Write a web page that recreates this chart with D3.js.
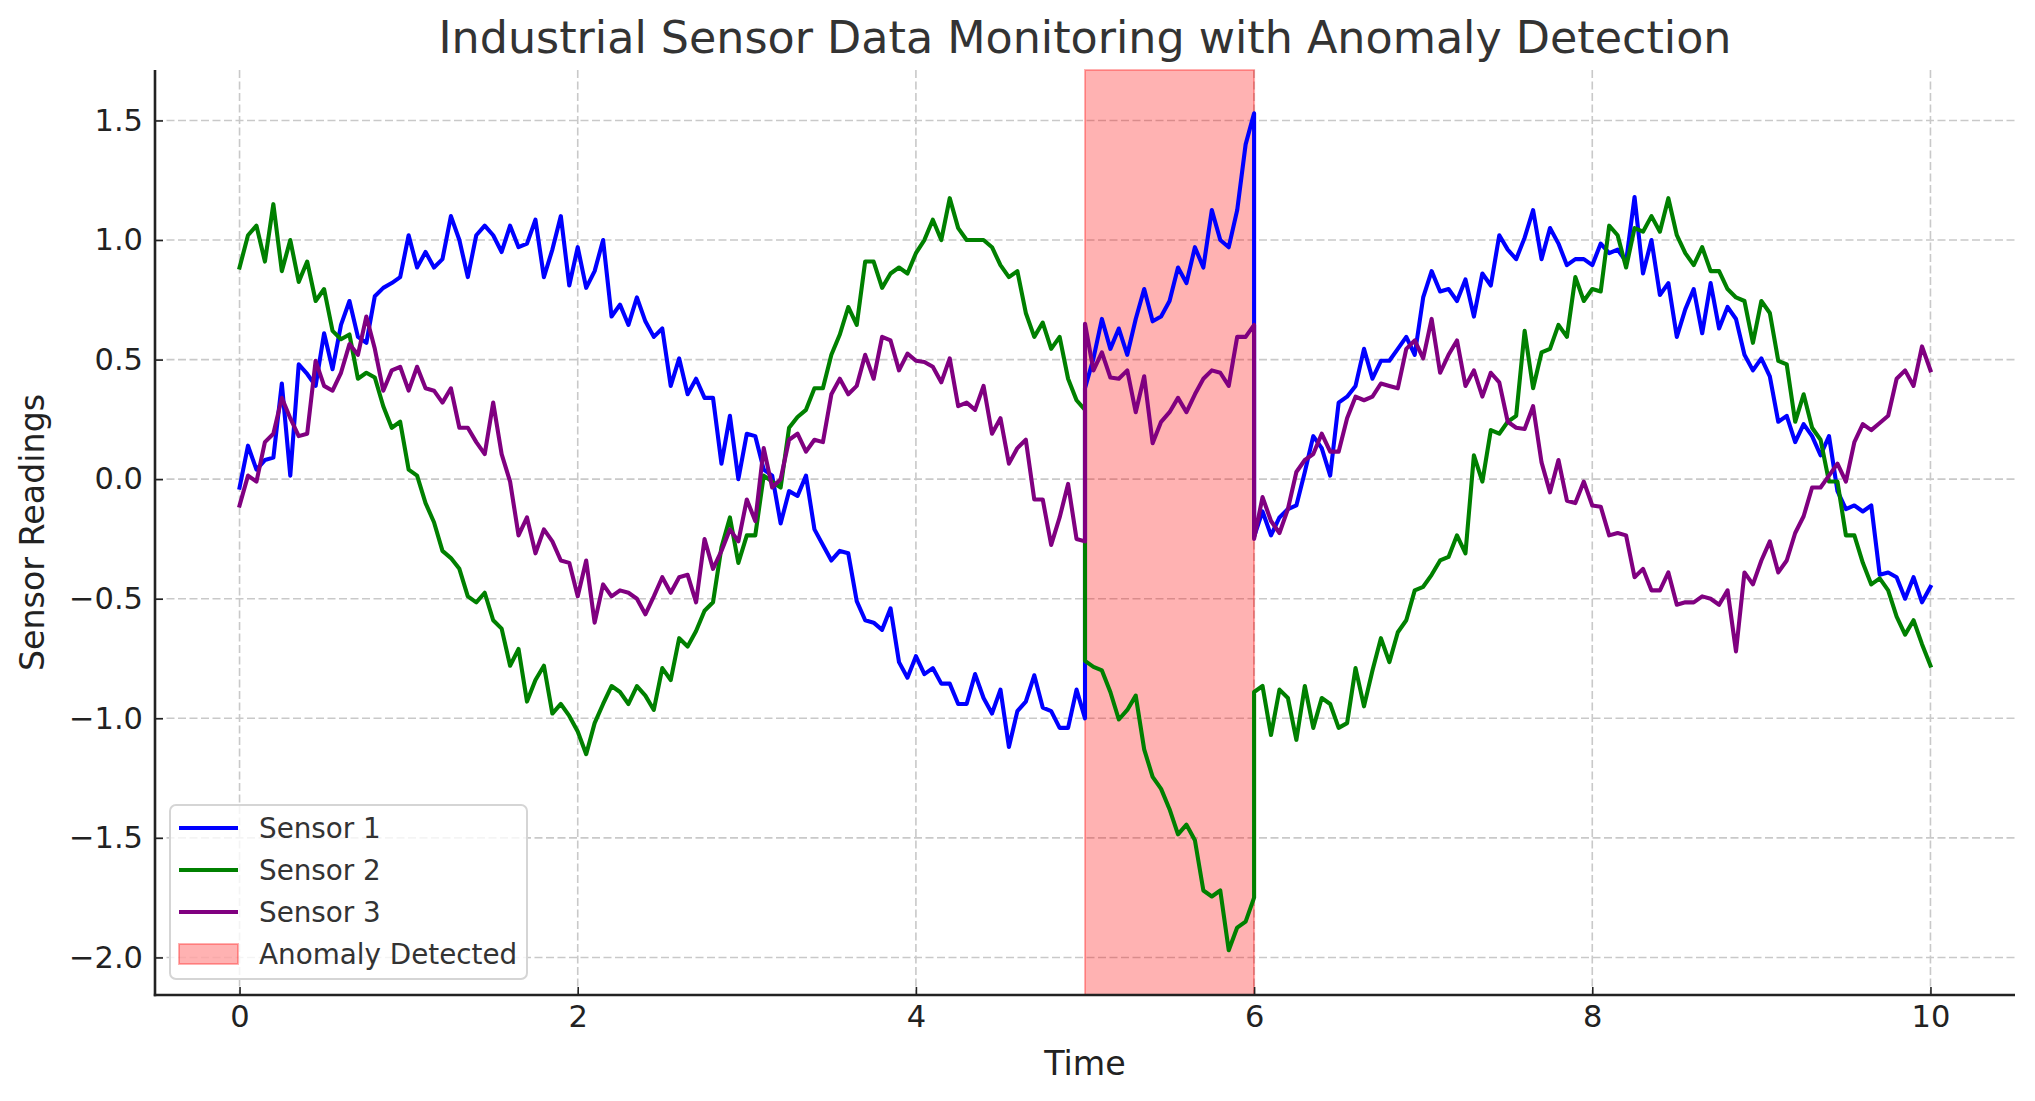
<!DOCTYPE html>
<html><head><meta charset="utf-8">
<script src="https://cdn.jsdelivr.net/npm/d3@7"></script>
<style>
html,body{margin:0;padding:0;background:#fff;}
svg{display:block;font-family:"DejaVu Sans",sans-serif;}
</style>
</head><body>
<svg id="chart" width="2035" height="1101"></svg>
<script>
// ---- data ----
const timeStep = 0.05;
const anomalyStart = 5;
const anomalyEnd = 6;

// Sensor 1: t = 0 .. 5.0 (before), 5.0 .. 6.0 (anomaly), 6.0 .. 10.0 (after)
const sensor1Before = [-0.035,0.14,0.04,0.08,0.09,0.40,0.015,0.48,0.44,0.39,0.61,0.46,0.645,0.745,0.595,0.57,0.765,0.80,0.82,0.845,1.02,0.885,0.95,0.885,0.92,1.10,1.00,0.845,1.02,1.06,1.02,0.95,1.06,
 0.97,0.985,1.085,0.845,0.96,1.10,0.81,0.97,0.80,0.87,1.0,0.68,0.73,0.645,0.76,0.66,0.595,0.63,0.39,0.505,0.355,0.42,0.34,0.34,0.065,0.265,0.0,0.19,0.18,0.04,0.015,-0.185,-0.05,
 -0.07,0.015,-0.21,-0.275,-0.34,-0.30,-0.31,-0.51,-0.59,-0.60,-0.63,-0.54,-0.765,-0.83,-0.74,-0.815,-0.79,-0.855,-0.855,-0.94,-0.94,-0.815,-0.915,-0.98,-0.88,-1.12,-0.97,-0.93,-0.82,-0.955,-0.97,-1.04,-1.04,
 -0.88,-1.0];
const sensor1During = [0.38,0.505,0.67,0.545,0.63,0.52,0.67,0.795,0.66,0.68,0.745,0.885,0.82,0.97,0.885,1.125,1.00,0.97,1.125,1.40,1.53];
const sensor1After = [-0.24,-0.135,-0.235,-0.16,-0.125,-0.11,0.03,0.18,0.13,0.015,0.32,0.345,
 0.39,0.545,0.42,0.495,0.495,0.545,0.595,0.52,0.76,0.87,0.785,0.795,0.745,0.835,0.68,0.86,0.81,1.02,0.96,0.92,1.01,1.125,0.92,1.05,0.985,0.895,0.92,0.92,0.895,0.985,0.945,0.96,0.91,
 1.18,0.86,1.00,0.77,0.82,0.595,0.71,0.795,0.61,0.82,0.63,0.72,0.67,0.52,0.455,0.505,0.43,0.24,0.265,0.155,0.23,0.18,0.10,0.18,-0.05,-0.125,-0.11,-0.135,-0.11,-0.40,-0.39,-0.41,-0.50,-0.41,-0.515,-0.45];

const sensor2Before = [0.885,1.02,1.06,0.91,1.15,0.87,1.00,0.825,0.91,0.745,0.795,0.62,0.585,0.605,0.42,0.445,0.425,0.305,0.215,0.24,0.04,0.015,-0.10,-0.18,-0.30,-0.33,-0.375,-0.49,-0.515,-0.475,-0.59,-0.625,-0.78,
 -0.71,-0.93,-0.84,-0.78,-0.98,-0.94,-0.99,-1.055,-1.15,-1.02,-0.94,-0.865,-0.89,-0.94,-0.865,-0.905,-0.965,-0.79,-0.84,-0.665,-0.70,-0.635,-0.55,-0.515,-0.285,-0.16,-0.35,-0.235,-0.235,0.015,-0.01,-0.035,0.215,
 0.26,0.29,0.38,0.38,0.52,0.605,0.72,0.645,0.91,0.91,0.80,0.86,0.885,0.86,0.945,1.00,1.085,1.00,1.175,1.05,1.00,1.00,1.00,0.97,0.895,0.845,0.87,0.695,0.595,0.655,0.545,0.595,0.42,
 0.33,0.29];
const sensor2During = [-0.76,-0.785,-0.80,-0.89,-1.005,-0.965,-0.905,-1.13,-1.245,-1.295,-1.38,-1.485,-1.445,-1.51,-1.72,-1.745,-1.72,-1.97,-1.875,-1.85,-1.75];
const sensor2After = [-0.89,-0.865,-1.07,-0.88,-0.915,-1.09,-0.865,-1.04,-0.915,-0.94,-1.04,-1.02,
 -0.79,-0.95,-0.80,-0.665,-0.765,-0.64,-0.59,-0.465,-0.45,-0.40,-0.34,-0.325,-0.235,-0.31,0.10,-0.01,0.205,0.19,0.24,0.265,0.62,0.38,0.53,0.545,0.645,0.595,0.845,0.745,0.795,0.785,1.06,1.02,0.885,
 1.05,1.035,1.10,1.035,1.175,1.02,0.945,0.895,0.97,0.87,0.87,0.795,0.76,0.745,0.57,0.745,0.695,0.495,0.48,0.24,0.355,0.215,0.165,-0.01,-0.01,-0.235,-0.235,-0.35,-0.44,-0.415,-0.465,-0.575,-0.65,-0.59,-0.69,-0.78];

const sensor3Before = [-0.11,0.015,-0.01,0.155,0.19,0.34,0.255,0.18,0.19,0.495,0.39,0.37,0.445,0.565,0.52,0.68,0.545,0.37,0.455,0.47,0.37,0.47,0.38,0.37,0.32,0.38,0.215,0.215,0.155,0.105,0.32,0.105,-0.01,
 -0.235,-0.16,-0.31,-0.21,-0.26,-0.34,-0.35,-0.49,-0.34,-0.60,-0.44,-0.49,-0.465,-0.475,-0.50,-0.565,-0.49,-0.41,-0.475,-0.41,-0.40,-0.515,-0.25,-0.375,-0.30,-0.21,-0.26,-0.085,-0.175,0.13,-0.035,0.0,0.165,
 0.19,0.115,0.165,0.155,0.355,0.42,0.355,0.39,0.52,0.42,0.595,0.58,0.455,0.525,0.495,0.49,0.47,0.405,0.505,0.305,0.32,0.29,0.39,0.19,0.255,0.065,0.13,0.165,-0.085,-0.085,-0.275,-0.16,-0.02,
 -0.25,-0.26];
const sensor3During = [0.65,0.455,0.53,0.425,0.42,0.455,0.28,0.43,0.15,0.24,0.28,0.34,0.28,0.355,0.42,0.455,0.445,0.39,0.595,0.595,0.645];
const sensor3After = [-0.25,-0.075,-0.175,-0.225,-0.125,0.03,0.08,0.105,0.19,0.115,0.115,0.255,
 0.345,0.33,0.345,0.40,0.39,0.38,0.545,0.58,0.505,0.67,0.445,0.52,0.58,0.39,0.455,0.345,0.445,0.405,0.24,0.215,0.21,0.305,0.07,-0.055,0.08,-0.09,-0.10,-0.01,-0.11,-0.115,-0.235,-0.225,-0.235,
 -0.41,-0.375,-0.465,-0.465,-0.39,-0.525,-0.515,-0.515,-0.49,-0.50,-0.525,-0.465,-0.72,-0.39,-0.44,-0.34,-0.26,-0.39,-0.34,-0.225,-0.155,-0.035,-0.035,0.015,0.065,-0.01,0.155,0.23,0.205,0.235,0.265,0.42,0.455,0.39,0.555,0.455];

const seriesNames = ["Sensor 1", "Sensor 2", "Sensor 3"];
const seriesColors = ["blue", "green", "purple"];
const anomalyLabel = "Anomaly Detected";
const xTickValues = [0, 2, 4, 6, 8, 10];
const yTickValues = [-2.0, -1.5, -1.0, -0.5, 0.0, 0.5, 1.0, 1.5];
const titleText = "Industrial Sensor Data Monitoring with Anomaly Detection";
const xLabelText = "Time";
const yLabelText = "Sensor Readings";

// ---- build series ----
function buildSeries(before, during, after) {
  const pts = [];
  before.forEach((v, i) => pts.push([i * timeStep, v]));
  during.forEach((v, i) => pts.push([anomalyStart + i * timeStep, v]));
  after.forEach((v, i) => pts.push([anomalyEnd + i * timeStep, v]));
  return pts;
}
const series = [
  buildSeries(sensor1Before, sensor1During, sensor1After),
  buildSeries(sensor2Before, sensor2During, sensor2After),
  buildSeries(sensor3Before, sensor3During, sensor3After)
];

// ---- layout ----
const L = 155, R = 2015, T = 70, B = 995;
const x = d3.scaleLinear().domain([-0.5, 10.5]).range([L, R]);
const y = d3.scaleLinear().domain([-2.157, 1.711]).range([B, T]);

const svg = d3.select("#chart");
svg.append("rect").attr("width", 2035).attr("height", 1101).attr("fill", "#fff");

// grid
const grid = svg.append("g");
grid.selectAll("line.gx").data(xTickValues).join("line")
  .attr("x1", d => x(d)).attr("x2", d => x(d)).attr("y1", T).attr("y2", B)
  .attr("stroke", "#c9c9c9").attr("stroke-width", 1.6).attr("stroke-dasharray", "8,3.5");
grid.selectAll("line.gy").data(yTickValues).join("line")
  .attr("x1", L).attr("x2", R).attr("y1", d => y(d)).attr("y2", d => y(d))
  .attr("stroke", "#c9c9c9").attr("stroke-width", 1.6).attr("stroke-dasharray", "8,3.5");

// anomaly span
svg.append("rect")
  .attr("x", x(anomalyStart)).attr("y", T)
  .attr("width", x(anomalyEnd) - x(anomalyStart)).attr("height", B - T)
  .attr("fill", "rgba(255,0,0,0.3)").attr("stroke", "rgba(255,0,0,0.3)").attr("stroke-width", 2);

// lines
const line = d3.line().x(d => x(d[0])).y(d => y(d[1]));
series.forEach((s, i) => {
  svg.append("path").datum(s).attr("d", line)
    .attr("fill", "none").attr("stroke", seriesColors[i])
    .attr("stroke-width", 4.1).attr("stroke-linejoin", "round").attr("stroke-linecap", "square");
});

// axes
const xAxis = d3.axisBottom(x).tickValues(xTickValues).tickFormat(d3.format("d"))
  .tickSizeInner(-8).tickSizeOuter(0).tickPadding(10);
const yAxis = d3.axisLeft(y).tickValues(yTickValues).tickFormat(d3.format(".1f"))
  .tickSizeInner(-8).tickSizeOuter(0).tickPadding(12);

const gx = svg.append("g").attr("transform", `translate(0,${B})`).call(xAxis);
const gy = svg.append("g").attr("transform", `translate(${L},0)`).call(yAxis);
[gx, gy].forEach(g => {
  g.select(".domain").remove();
  g.selectAll(".tick line").attr("stroke", "#222").attr("stroke-width", 1.6);
  g.selectAll(".tick text").attr("fill", "#222").style("font-size", "30.5px")
    .style("font-family", '"DejaVu Sans", sans-serif');
});
// spines
svg.append("line").attr("x1", L).attr("x2", L).attr("y1", T).attr("y2", B + 1.2)
  .attr("stroke", "#222").attr("stroke-width", 2.6);
svg.append("line").attr("x1", L - 1.2).attr("x2", R).attr("y1", B).attr("y2", B)
  .attr("stroke", "#222").attr("stroke-width", 2.6);

// title & labels
svg.append("text").attr("x", (L + R) / 2).attr("y", 53).attr("text-anchor", "middle")
  .attr("fill", "#333").style("font-size", "44.4px").text(titleText);
svg.append("text").attr("x", (L + R) / 2).attr("y", 1075).attr("text-anchor", "middle")
  .attr("fill", "#222").style("font-size", "33.3px").text(xLabelText);
svg.append("text").attr("transform", `translate(44,${(T + B) / 2}) rotate(-90)`)
  .attr("text-anchor", "middle").attr("fill", "#222").style("font-size", "33.3px").text(yLabelText);

// legend
const leg = svg.append("g");
leg.append("rect").attr("x", 170).attr("y", 805).attr("width", 357).attr("height", 174)
  .attr("rx", 6).attr("fill", "rgba(255,255,255,0.8)").attr("stroke", "#d5d5d5").attr("stroke-width", 2);
const rowY = [828, 870, 912, 954];
seriesNames.forEach((n, i) => {
  leg.append("line").attr("x1", 179).attr("x2", 238).attr("y1", rowY[i]).attr("y2", rowY[i])
    .attr("stroke", seriesColors[i]).attr("stroke-width", 4.1);
  leg.append("text").attr("x", 259).attr("y", rowY[i] + 10).attr("fill", "#333")
    .style("font-size", "27.8px").text(n);
});
leg.append("rect").attr("x", 179).attr("y", rowY[3] - 10).attr("width", 59).attr("height", 20)
  .attr("fill", "rgba(255,0,0,0.3)").attr("stroke", "rgba(255,0,0,0.3)").attr("stroke-width", 2);
leg.append("text").attr("x", 259).attr("y", rowY[3] + 10).attr("fill", "#333")
  .style("font-size", "27.8px").text(anomalyLabel);
</script>
</body></html>
